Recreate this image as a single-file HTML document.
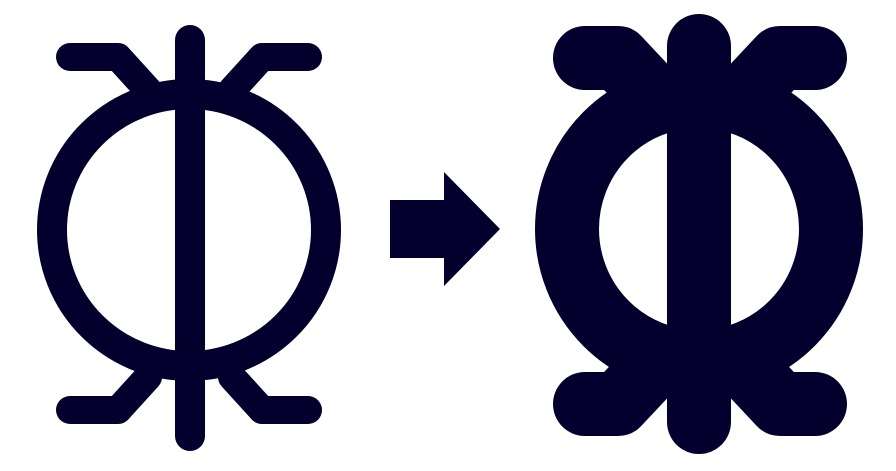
<!DOCTYPE html>
<html><head><meta charset="utf-8"><style>html,body{margin:0;padding:0;background:#fff;width:896px;height:471px;overflow:hidden}</style></head>
<body>
<svg width="896" height="471" viewBox="0 0 896 471">
 <g fill="none" stroke="#03002e" stroke-linecap="round" stroke-linejoin="round">
  <ellipse cx="189" cy="230" rx="137" ry="136" stroke-width="30"/>
  <line x1="190" y1="40" x2="190" y2="436" stroke-width="30"/>
  <polyline points="70,57 118,57 148,90" stroke-width="28"/>
  <polyline points="308,57 262,57 232,90" stroke-width="28"/>
  <polyline points="70,410 118,410 148,377" stroke-width="28"/>
  <polyline points="308,410 262,410 232,377" stroke-width="28"/>
 </g>
 <g fill="#03002e">
  <rect x="390" y="200" width="56" height="58"/>
  <polygon points="444,172 444,286 500,229"/>
 </g>
 <g fill="none" stroke="#03002e" stroke-linecap="round" stroke-linejoin="round">
  <ellipse cx="699" cy="229" rx="132" ry="133" stroke-width="64"/>
  <line x1="699" y1="46" x2="699" y2="422" stroke-width="64"/>
  <polyline points="585,58 618,58 648,90" stroke-width="64"/>
  <polyline points="815,58 780,58 750,90" stroke-width="64"/>
  <polyline points="585,404 618,404 648,372" stroke-width="64"/>
  <polyline points="815,404 780,404 750,372" stroke-width="64"/>
 </g>
</svg>
</body></html>
